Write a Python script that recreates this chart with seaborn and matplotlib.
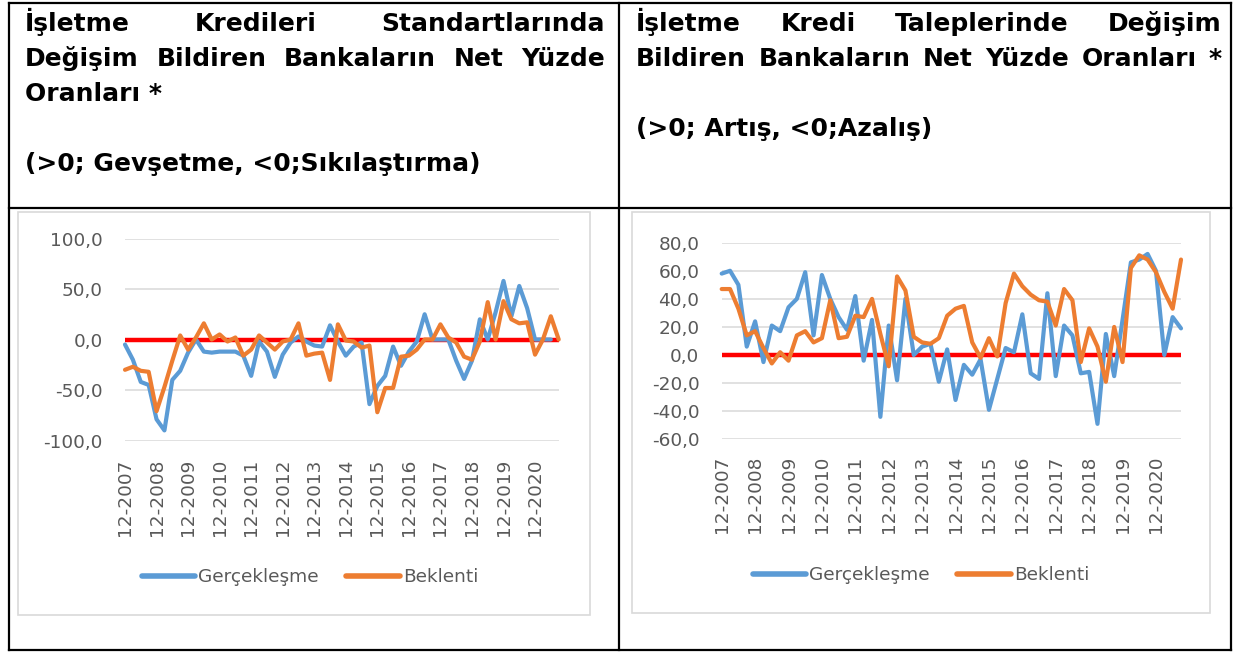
import numpy as np
import pandas as pd
import matplotlib
matplotlib.use("Agg")
import matplotlib.pyplot as plt
import seaborn as sns
from matplotlib.lines import Line2D
from matplotlib.patches import Rectangle
from matplotlib.ticker import FuncFormatter, FixedLocator

# ---------------- data ----------------
quarters = [
    "12-2007", "03-2008", "06-2008", "09-2008", "12-2008", "03-2009", "06-2009", "09-2009",
    "12-2009", "03-2010", "06-2010", "09-2010", "12-2010", "03-2011", "06-2011", "09-2011",
    "12-2011", "03-2012", "06-2012", "09-2012", "12-2012", "03-2013", "06-2013", "09-2013",
    "12-2013", "03-2014", "06-2014", "09-2014", "12-2014", "03-2015", "06-2015", "09-2015",
    "12-2015", "03-2016", "06-2016", "09-2016", "12-2016", "03-2017", "06-2017", "09-2017",
    "12-2017", "03-2018", "06-2018", "09-2018", "12-2018", "03-2019", "06-2019", "09-2019",
    "12-2019", "03-2020", "06-2020", "09-2020", "12-2020", "03-2021", "06-2021", "09-2021",
]
tick_labels = ["12-2007", "12-2008", "12-2009", "12-2010", "12-2011", "12-2012", "12-2013",
               "12-2014", "12-2015", "12-2016", "12-2017", "12-2018", "12-2019", "12-2020"]

# Left chart: credit standards (Gerçekleşme / Beklenti)
std_real = [-5, -20, -42, -45, -79, -90, -40, -31, -13, 0, -12, -13, -12, -12, -12, -16,
            -36, -2, -12, -37, -15, -3, 3, -2, -6, -7, 14, -2, -16, -7, -3, -64,
            -46, -36, -7, -26, -12, -2, 25, 0, 0, 0, -21, -39, -21, 20, 0, 27,
            58, 23, 53, 31, 0, 0, 0, np.nan]
std_exp = [-30, -27, -31, -32, -71, -47, -21, 4, -10, 2, 16, 0, 5, -2, 2, -16,
           -10, 4, -3, -10, -2, 0, 16, -16, -14, -13, -40, 15, -1, -2, -8, -6,
           -72, -48, -48, -17, -16, -10, 0, 0, 15, 2, -3, -17, -20, -2, 37, 0,
           38, 20, 16, 17, -15, 0, 23, 0]

# Right chart: credit demand (Gerçekleşme / Beklenti)
dem_real = [58, 60, 50, 6, 24, -5, 21, 17, 34, 40, 59, 14, 57, 40, 27, 18,
            42, -4, 25, -44, 21, -18, 40, 0, 6, 8, -19, 4, -32, -7, -14, -3,
            -39, -17, 5, 2, 29, -13, -17, 44, -15, 21, 14, -13, -12, -49, 15, -15,
            25, 66, 68, 72, 60, 0, 27, 19]
dem_exp = [47, 47, 33, 14, 17, 5, -6, 2, -4, 14, 17, 9, 12, 39, 12, 13,
           28, 27, 40, 15, -8, 56, 46, 13, 9, 8, 12, 28, 33, 35, 9, -2,
           12, -1, 37, 58, 49, 43, 39, 38, 21, 47, 39, -5, 19, 6, -19, 20,
           -5, 62, 71, 68, 59, 45, 33, 68]

series_names = ["Gerçekleşme", "Beklenti"]
colors = {"Gerçekleşme": "#5B9BD5", "Beklenti": "#ED7D31"}

left_title_lines = [
    ("İşletme Kredileri Standartlarında", True),
    ("Değişim Bildiren Bankaların Net Yüzde", True),
    ("Oranları *", False),
    ("", False),
    ("(>0; Gevşetme, <0;Sıkılaştırma)", False),
]
right_title_lines = [
    ("İşletme Kredi Taleplerinde Değişim", True),
    ("Bildiren Bankaların Net Yüzde Oranları *", True),
    ("", False),
    ("(>0; Artış, <0;Azalış)", False),
]

# ---------------- style ----------------
sns.set_theme(style="white")
plt.rcParams["font.family"] = ["DejaVu Sans"]

W, H = 1236, 652
fig = plt.figure(figsize=(W / 100, H / 100), dpi=100)
fig.patch.set_facecolor("white")


def fx(px):
    return px / W


def fy(py):
    return 1 - py / H


def fline(x0, y0, x1, y1, color="black", lw=1.6):
    fig.add_artist(Line2D([fx(x0), fx(x1)], [fy(y0), fy(y1)],
                          transform=fig.transFigure, color=color, lw=lw,
                          solid_capstyle="projecting"))


# table borders
fline(9, 2.5, 1231, 2.5)
fline(9, 649.5, 1231, 649.5)
fline(9, 2.5, 9, 649.5)
fline(1231, 2.5, 1231, 649.5)
fline(619, 2.5, 619, 649.5)
fline(9, 208, 1231, 208)

# chart-area boxes
for (x0, y0, x1, y1) in [(18, 212, 590, 615), (632, 212, 1210, 613)]:
    fig.add_artist(Rectangle((fx(x0), fy(y1)), fx(x1) - fx(x0), fy(y0) - fy(y1),
                             transform=fig.transFigure, facecolor="none",
                             edgecolor="#D9D9D9", lw=1.2))

# header texts
renderer = fig.canvas.get_renderer()
HFONT = dict(fontsize=18, fontweight="bold", color="black", va="baseline", ha="left")


def put_line(text, x0, x1, ybase, justify):
    if not text:
        return
    words = text.split(" ")
    if not justify or len(words) == 1:
        fig.text(fx(x0), fy(ybase), text, **HFONT)
        return
    ts = [fig.text(0, fy(ybase), w, **HFONT) for w in words]
    widths = [t.get_window_extent(renderer).width for t in ts]
    gap = (x1 - x0 - sum(widths)) / (len(words) - 1)
    x = x0
    for t, w in zip(ts, widths):
        t.set_x(fx(x))
        x += w + gap


for k, (txt, just) in enumerate(left_title_lines):
    put_line(txt, 25, 605, 31 + 35 * k, just)
for k, (txt, just) in enumerate(right_title_lines):
    put_line(txt, 636, 1222, 31 + 35 * k, just)

# ---------------- charts ----------------
TICK_COLOR = "#595959"
FS = 13.3


def comma_fmt(v, _):
    return f"{v:.1f}".replace(".", ",")


def make_chart(rect, real, exp, ylim, ystep, legend_center, xpad, ypad):
    ax = fig.add_axes(rect)
    n = len(quarters)
    df = pd.DataFrame({
        "pos": list(range(n)) * 2,
        "value": list(real) + list(exp),
        "series": [series_names[0]] * n + [series_names[1]] * n,
    })
    ax.axhline(0, color="#FF0000", lw=3.2, zorder=2)
    for name in series_names:
        sub = df[df["series"] == name].dropna()
        sns.lineplot(data=sub, x="pos", y="value", ax=ax, color=colors[name],
                     lw=3.0, solid_capstyle="round", solid_joinstyle="round",
                     clip_on=False, zorder=3 if name == series_names[0] else 4,
                     legend=False)
    ax.set_xlim(0, n - 1)
    ax.set_ylim(*ylim)
    ax.yaxis.set_major_locator(FixedLocator(np.arange(ylim[0], ylim[1] + 0.1, ystep)))
    ax.yaxis.set_major_formatter(FuncFormatter(comma_fmt))
    ax.set_xticks([quarters.index(t) for t in tick_labels])
    ax.set_xticklabels(tick_labels, rotation=90, ha="center", va="top")
    ax.tick_params(axis="x", length=0, pad=xpad, labelsize=FS, colors=TICK_COLOR)
    ax.tick_params(axis="y", length=0, pad=ypad, labelsize=FS, colors=TICK_COLOR)
    ax.grid(axis="y", color="#D9D9D9", lw=1.1)
    ax.grid(axis="x", visible=False)
    ax.set_axisbelow(True)
    for s in ax.spines.values():
        s.set_visible(False)
    ax.set_xlabel("")
    ax.set_ylabel("")
    handles = [Line2D([0], [0], color=colors[nm], lw=4, solid_capstyle="round")
               for nm in series_names]
    ax.legend(handles, series_names, loc="center",
              bbox_to_anchor=(fx(legend_center[0]), fy(legend_center[1])),
              bbox_transform=fig.transFigure, ncol=2, frameon=False,
              handlelength=2.9, handletextpad=0.15, columnspacing=1.5,
              fontsize=FS, labelcolor=TICK_COLOR)
    return ax


make_chart([fx(125), fy(440.5), fx(558.7) - fx(125), fy(238.5) - fy(440.5)],
           std_real, std_exp, (-100, 100), 50, (310, 577), 13, 16)
make_chart([fx(721.7), fy(439.3), fx(1181) - fx(721.7), fy(242.7) - fy(439.3)],
           dem_real, dem_exp, (-60, 80), 20, (921, 575), 11.5, 16)

fig.savefig("out.png", dpi=100, facecolor="white")
